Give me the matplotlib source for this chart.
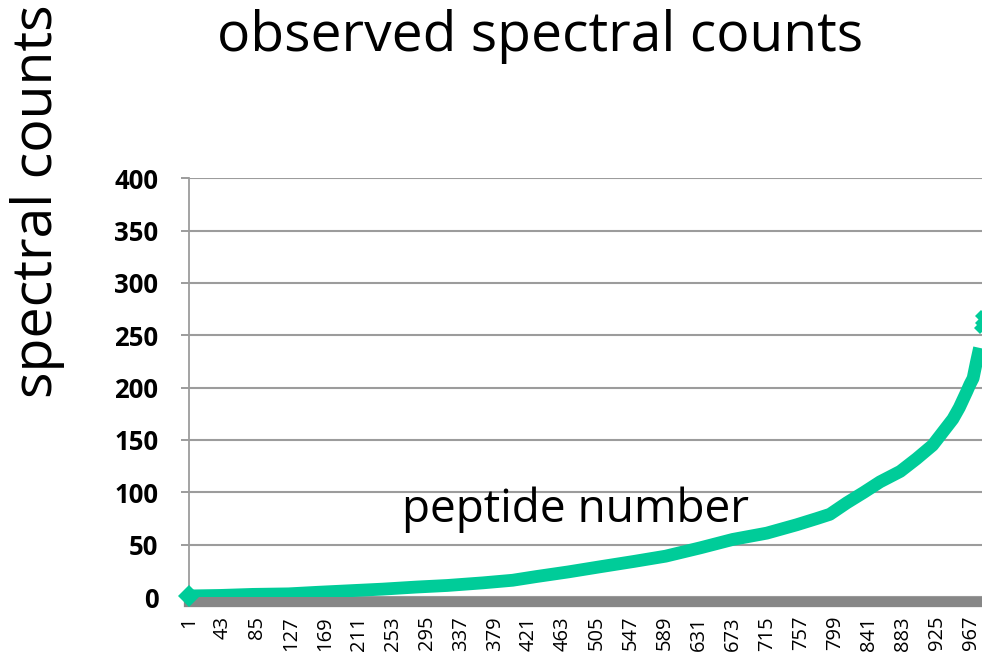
import matplotlib
matplotlib.use("Agg")
import matplotlib.pyplot as plt
import numpy as np

# ---- data ----
peptide_number = [1, 40, 80, 124, 160, 200, 240, 282, 320, 364, 401, 430, 470,
                  510, 551, 590, 633, 673, 715, 752, 777, 793, 814, 835, 855,
                  880, 900, 920, 932, 945, 953, 962, 966, 970, 974, 978]
spectral_count = [1, 1.5, 2.5, 3, 4.5, 6, 7.5, 9.5, 11, 13.5, 16, 19.5, 24,
                  29, 34, 39, 47, 55, 61, 69, 75, 79, 90, 100, 110,
                  120, 132, 145, 157, 170, 181, 196, 203, 209, 224, 238]
outlier_number = [979, 980, 980]
outlier_count = [257, 262, 268]

x_ticks = list(range(1, 977, 42))
y_ticks = [0, 50, 100, 150, 200, 250, 300, 350, 400]

title = "observed spectral counts"
ylabel = "spectral counts"
xlabel = "peptide number"

GREEN = "#00CC99"
GRID = "#9C9C9C"
FONT = "Open Sans"

W, H = 982, 655
fig = plt.figure(figsize=(W / 100, H / 100), dpi=100)
ax = fig.add_axes([189 / W, 1 - 597 / H, 1 - 189 / W, (597 - 178.3) / H])

ax.plot(peptide_number, spectral_count, color=GREEN, lw=9.2,
        solid_capstyle="butt", solid_joinstyle="round", zorder=3)
ax.plot(peptide_number[:1], spectral_count[:1], linestyle="none",
        marker="D", markersize=11, color=GREEN, markeredgewidth=0,
        zorder=4, clip_on=False)
ax.plot(outlier_number, outlier_count, linestyle="none", marker="D",
        markersize=6, color=GREEN, markeredgewidth=0, zorder=3)

for s in ("top", "right"):
    ax.spines[s].set_visible(False)
ax.spines["left"].set_color(GRID)
ax.spines["left"].set_linewidth(1.3)
ax.spines["bottom"].set_color("#878787")
ax.spines["bottom"].set_linewidth(7.4)
ax.spines["bottom"].set_position(("outward", 3.6))
ax.spines["bottom"].set_zorder(2)

ax.set_xlim(1, 981)
ax.set_ylim(0, 400)
ax.set_yticks(y_ticks)
ax.set_xticks(x_ticks)
ax.set_xticklabels([str(t) for t in x_ticks])
ax.set_yticklabels([str(t) for t in y_ticks])

ax.grid(axis="y", color=GRID, lw=1.5, zorder=1)
ax.grid(axis="x", visible=False)
ax.set_axisbelow(True)

ax.tick_params(axis="y", length=6, width=1.4, color=GRID, pad=16,
               labelsize=18.5)
ax.tick_params(axis="x", length=0, pad=10, labelsize=14.5, labelrotation=90)
for lab in ax.get_yticklabels():
    lab.set_fontweight("bold")
    lab.set_family(FONT)
for lab in ax.get_xticklabels():
    lab.set_family(FONT)
    lab.set_rotation(90)

fig.canvas.draw()
renderer = fig.canvas.get_renderer()


def fit_text(x, y, s, target, along="w", **kw):
    t = fig.text(x, y, s, family=FONT, fontsize=30, **kw)
    bb = t.get_window_extent(renderer)
    cur = bb.width if along == "w" else bb.height
    t.set_fontsize(30 * target / cur)
    return t


fit_text(540 / W, 1 - 51 / H, title, 644, ha="center", va="baseline")
fit_text(576 / W, 1 - 522 / H, xlabel, 348, ha="center", va="baseline")
fit_text(38 / W, 1 - 201 / H, ylabel, 393, along="h", ha="center",
         va="center", rotation=90)

fig.savefig("out.png", dpi=100)
